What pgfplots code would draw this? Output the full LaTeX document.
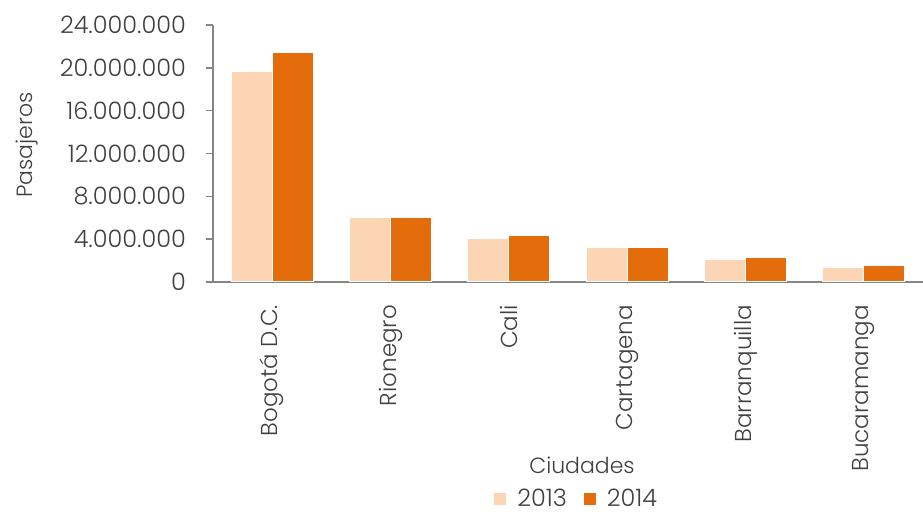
\documentclass[border=0pt]{standalone}
\usepackage{fontspec}
\setmainfont{Poppins}[UprightFont={* Light}]
\usepackage{pgfplots}
\pgfplotsset{compat=1.18}

\definecolor{light13}{HTML}{FCD5B5}
\definecolor{dark14}{HTML}{E46C0A}
\definecolor{txt}{HTML}{404040}
\definecolor{axisgray}{HTML}{868686}

\begin{document}
\begin{tikzpicture}[font=\fontsize{11}{13}\selectfont, text=txt]
 \begin{axis}[
    scale only axis,
    width=355pt, height=128.5pt,
    ybar=0pt,
    bar width=0.346,
    xmin=-0.5, xmax=5.5,
    ymin=0, ymax=24000000,
    axis lines*=left,
    axis line style={axisgray, line width=0.8pt},
    xtick={0,1,2,3,4,5},
    xticklabels={Bogotá D.C., Rionegro, Cali, Cartagena, Barranquilla, Bucaramanga},
    minor xtick={-0.5,0.5,1.5,2.5,3.5,4.5,5.5},
    x tick style={draw=none},
    minor x tick style={axisgray, line width=0.8pt},
    minor tick length=3.5pt,
    ytick={0,4000000,8000000,12000000,16000000,20000000,24000000},
    y tick style={axisgray, line width=0.8pt},
    major tick length=3.5pt,
    tick align=outside,
    scaled y ticks=false,
    /pgf/number format/.cd, fixed, 1000 sep={.}, assume math mode=true, /pgfplots/.cd,
    yticklabel style={xshift=-6.5pt, font=\fontsize{12}{14}\selectfont},
    xticklabel style={rotate=90, anchor=east, xshift=-4.5pt, font=\fontsize{11.5}{13}\selectfont},
    legend style={draw=none, fill=none, at={(axis description cs:0.513,-0.844)}, anchor=center,
                  legend columns=2, font=\fontsize{12}{14}\selectfont,
                  /tikz/every odd column/.append style={column sep=3pt},
                  /tikz/every even column/.append style={column sep=6pt}},
    legend image code/.code={\fill[#1] (0pt,-3.2pt) rectangle (6.5pt,3.2pt);},
    clip=false,
  ]
   \addplot[fill=light13, draw=white, line width=0.5pt] coordinates {
     (0,19650000) (1,5980000) (2,4020000) (3,3180000) (4,2060000) (5,1370000) };
   \addplot[fill=dark14, draw=white, line width=0.5pt] coordinates {
     (0,21430000) (1,6000000) (2,4360000) (3,3240000) (4,2300000) (5,1560000) };
   \legend{2013, 2014}
 \end{axis}
 \node[rotate=90] at (-93pt,68.5pt) {Pasajeros};
 \node at (184.5pt,-91.5pt) {Ciudades};
 \pgfresetboundingbox
 \useasboundingbox (-106.5pt,-115pt) rectangle (355pt,141pt);
\end{tikzpicture}
\end{document}
